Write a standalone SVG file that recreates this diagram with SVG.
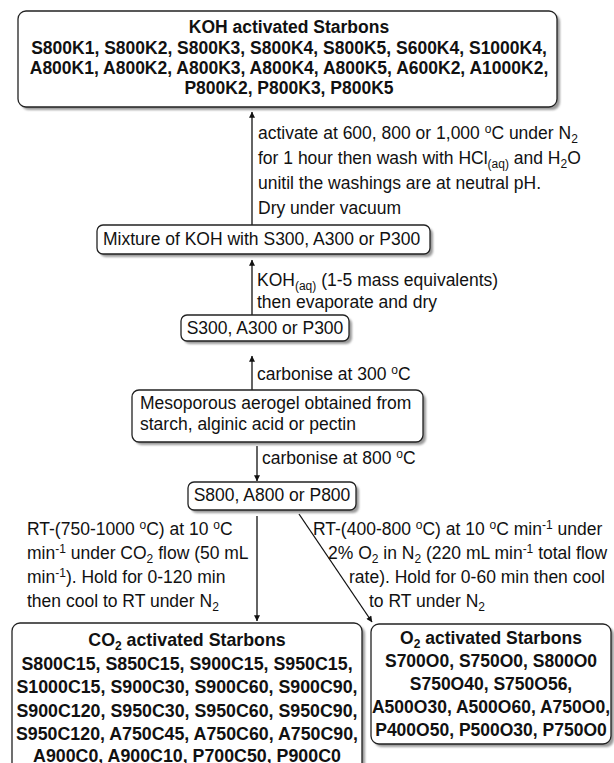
<svg xmlns="http://www.w3.org/2000/svg" width="614" height="763" viewBox="0 0 614 763">
<defs>
<marker id="ah" viewBox="0 0 10 10" refX="9.5" refY="5" markerWidth="9" markerHeight="6" markerUnits="userSpaceOnUse" orient="auto">
<path d="M0,0 L10,5 L0,10 Z" fill="#111"/>
</marker>
<filter id="blur" x="-5%" y="-5%" width="110%" height="110%"><feGaussianBlur stdDeviation="1"/></filter>
<style>
.box{fill:#fff;stroke:#222;stroke-width:1.3}
.sh{fill:#9a9a9a;filter:url(#blur)}
.t{font-family:"Liberation Sans",Arial,sans-serif;font-size:17.5px;fill:#111}
.b{font-family:"Liberation Sans",Arial,sans-serif;font-size:17.5px;font-weight:bold;fill:#111}
.c{text-anchor:middle}
.s{font-size:12px}
.ln{stroke:#111;stroke-width:1.3;fill:none;marker-end:url(#ah)}
</style>
</defs>
<rect width="614" height="763" fill="#fff"/>
<g id="connectors">
<line class="ln" x1="252" y1="225" x2="252" y2="112"/>
<line class="ln" x1="252" y1="315" x2="252" y2="260"/>
<line class="ln" x1="252" y1="390" x2="252" y2="356"/>
<line class="ln" x1="257" y1="446" x2="257" y2="481"/>
<line class="ln" x1="257" y1="516" x2="257" y2="621"/>
<line class="ln" x1="299" y1="514" x2="372" y2="622"/>
<text class="t" x="258" y="139">activate at 600, 800 or 1,000 <tspan class="s" dy="-6">o</tspan><tspan dy="6">C under N</tspan><tspan class="s" dy="4">2</tspan></text>
<text class="t" x="258" y="164">for 1 hour then wash with HCl<tspan class="s" dy="4">(aq)</tspan><tspan dy="-4"> and H</tspan><tspan class="s" dy="4">2</tspan><tspan dy="-4">O</tspan></text>
<text class="t" x="258" y="189">unitil the washings are at neutral pH.</text>
<text class="t" x="258" y="214">Dry under vacuum</text>
<text class="t" x="257" y="286">KOH<tspan class="s" dy="4">(aq)</tspan><tspan dy="-4"> (1-5 mass equivalents)</tspan></text>
<text class="t" x="257" y="308">then evaporate and dry</text>
<text class="t" x="257" y="380">carbonise at 300 <tspan class="s" dy="-6">o</tspan><tspan dy="6">C</tspan></text>
<text class="t" x="262" y="464">carbonise at 800 <tspan class="s" dy="-6">o</tspan><tspan dy="6">C</tspan></text>
<text class="t" x="27" y="535">RT-(750-1000 <tspan class="s" dy="-6">o</tspan><tspan dy="6">C) at 10 </tspan><tspan class="s" dy="-6">o</tspan><tspan dy="6">C</tspan></text>
<text class="t" x="27" y="559">min<tspan class="s" dy="-6">-1</tspan><tspan dy="6"> under CO</tspan><tspan class="s" dy="4">2</tspan><tspan dy="-4"> flow (50 mL</tspan></text>
<text class="t" x="27" y="583">min<tspan class="s" dy="-6">-1</tspan><tspan dy="6">). Hold for 0-120 min</tspan></text>
<text class="t" x="27" y="607">then cool to RT under N<tspan class="s" dy="4">2</tspan></text>
<text class="t" x="313" y="535">RT-(400-800 <tspan class="s" dy="-6">o</tspan><tspan dy="6">C) at 10 </tspan><tspan class="s" dy="-6">o</tspan><tspan dy="6">C min</tspan><tspan class="s" dy="-6">-1</tspan><tspan dy="6"> under</tspan></text>
<text class="t" x="328" y="559">2% O<tspan class="s" dy="4">2</tspan><tspan dy="-4"> in N</tspan><tspan class="s" dy="4">2</tspan><tspan dy="-4"> (220 mL min</tspan><tspan class="s" dy="-6">-1</tspan><tspan dy="6"> total flow</tspan></text>
<text class="t" x="349" y="583">rate). Hold for 0-60 min then cool</text>
<text class="t" x="369" y="607">to RT under N<tspan class="s" dy="4">2</tspan></text>
</g>
<g id="koh-starbons">
<rect class="sh" x="21" y="14" width="539" height="96" rx="8"/>
<rect class="box" x="18" y="11" width="539" height="96" rx="8"/>
<text class="b c" x="289" y="33">KOH activated Starbons</text>
<text class="b c" x="289" y="54">S800K1, S800K2, S800K3, S800K4, S800K5, S600K4, S1000K4,</text>
<text class="b c" x="289" y="74">A800K1, A800K2, A800K3, A800K4, A800K5, A600K2, A1000K2,</text>
<text class="b c" x="289" y="94">P800K2, P800K3, P800K5</text>
</g>
<g id="mixture">
<rect class="sh" x="100" y="228" width="333" height="29" rx="6"/>
<rect class="box" x="97" y="225" width="333" height="29" rx="6"/>
<text class="t" x="103" y="245">Mixture of KOH with S300, A300 or P300</text>
</g>
<g id="s300">
<rect class="sh" x="184" y="318" width="168" height="26" rx="6"/>
<rect class="box" x="181" y="315" width="168" height="26" rx="6"/>
<text class="t c" x="265" y="334">S300, A300 or P300</text>
</g>
<g id="aerogel">
<rect class="sh" x="135" y="393" width="291" height="52" rx="7"/>
<rect class="box" x="132" y="390" width="291" height="52" rx="7"/>
<text class="t" x="140" y="409">Mesoporous aerogel obtained from</text>
<text class="t" x="140" y="430">starch, alginic acid or pectin</text>
</g>
<g id="s800">
<rect class="sh" x="191" y="485" width="168" height="28" rx="6"/>
<rect class="box" x="188" y="482" width="168" height="28" rx="6"/>
<text class="t c" x="272" y="501">S800, A800 or P800</text>
</g>
<g id="co2-starbons">
<rect class="sh" x="15" y="626" width="350" height="150" rx="8"/>
<rect class="box" x="12" y="623" width="350" height="150" rx="8"/>
<text class="b c" x="187" y="646" style="font-size:17.8px">CO<tspan class="s" dy="4">2</tspan><tspan dy="-4"> activated Starbons</tspan></text>
<text class="b c" x="187" y="669.5" style="font-size:17.8px">S800C15, S850C15, S900C15, S950C15,</text>
<text class="b c" x="187" y="693" style="font-size:17.8px">S1000C15, S900C30, S900C60, S900C90,</text>
<text class="b c" x="187" y="716.5" style="font-size:17.8px">S900C120, S950C30, S950C60, S950C90,</text>
<text class="b c" x="187" y="740" style="font-size:17.8px">S950C120, A750C45, A750C60, A750C90,</text>
<text class="b c" x="187" y="762" style="font-size:17.8px">A900C0, A900C10, P700C50, P900C0</text>
</g>
<g id="o2-starbons">
<rect class="sh" x="374" y="627" width="240" height="120" rx="8"/>
<rect class="box" x="371" y="624" width="240" height="120" rx="8"/>
<text class="b c" x="491" y="644">O<tspan class="s" dy="4">2</tspan><tspan dy="-4"> activated Starbons</tspan></text>
<text class="b c" x="491" y="667">S700O0, S750O0, S800O0</text>
<text class="b c" x="491" y="690">S750O40, S750O56,</text>
<text class="b c" x="491" y="713">A500O30, A500O60, A750O0,</text>
<text class="b c" x="491" y="736">P400O50, P500O30, P750O0</text>
</g>
</svg>
